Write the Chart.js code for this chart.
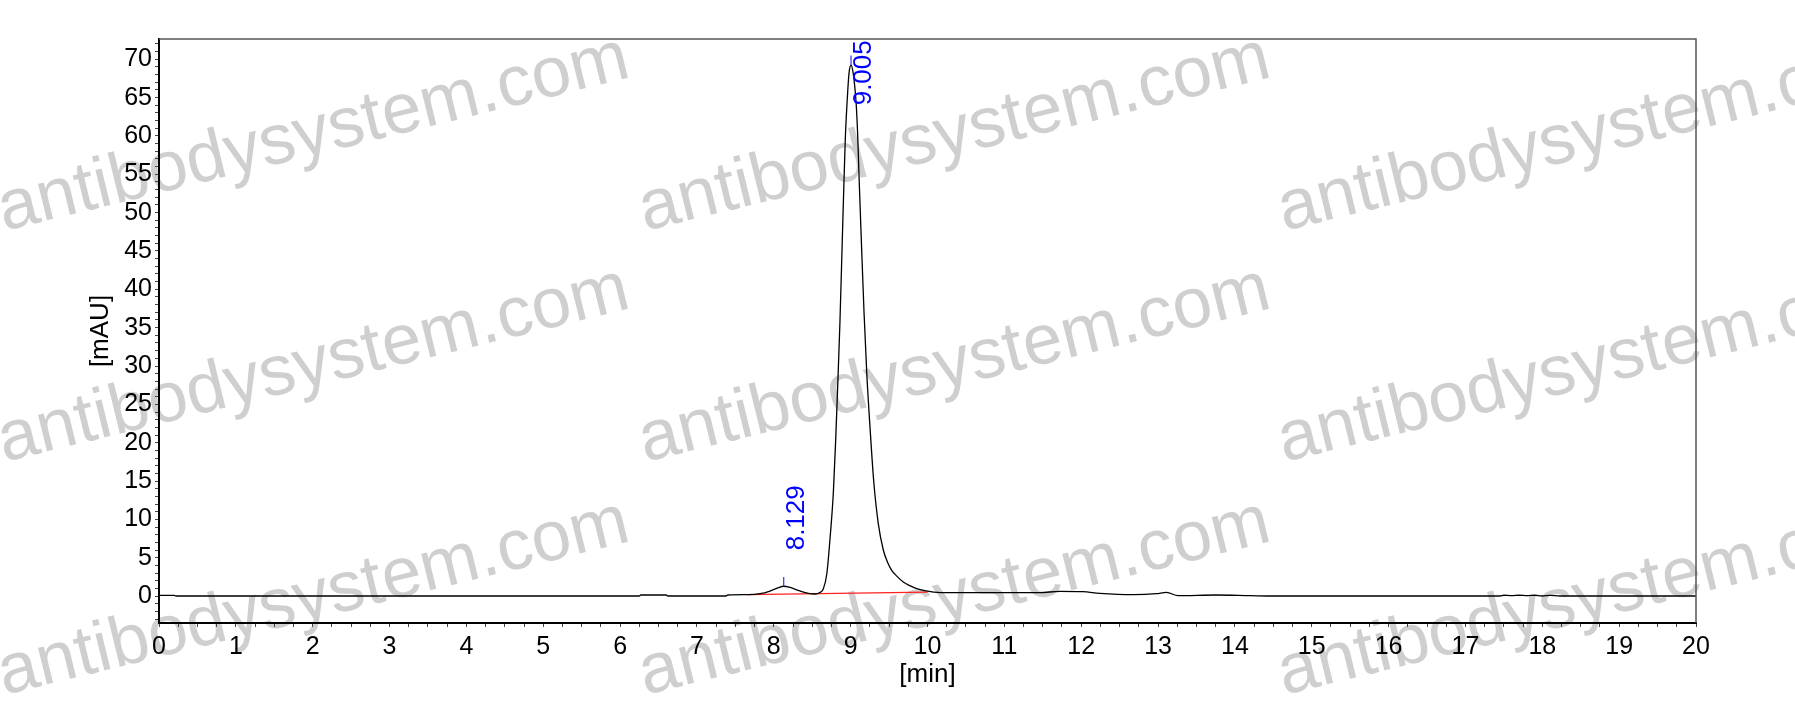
<!DOCTYPE html>
<html><head><meta charset="utf-8">
<script src="https://cdn.jsdelivr.net/npm/chart.js@4"></script>
<style>html,body{margin:0;padding:0;background:#fff}#wrap{width:1795px;height:726px}</style>
</head><body><div id="wrap"><canvas id="c" width="1795" height="726"></canvas></div>
<script>
// ---- data ----
const timeMin = [0, 0.2, 0.22, 6.25, 6.27, 6.6, 6.62, 7.38, 7.4, 7.67, 7.82, 7.95, 8.06, 8.129, 8.2, 8.34, 8.45, 8.536, 8.6, 8.645, 8.69, 8.73, 8.775, 8.805, 8.83, 8.86, 8.89, 8.91, 8.93, 8.957, 8.98, 9.005, 9.03, 9.05, 9.07, 9.09, 9.11, 9.135, 9.174, 9.21, 9.252, 9.3, 9.36, 9.425, 9.48, 9.534, 9.61, 9.685, 9.77, 9.86, 9.96, 10.08, 10.29, 10.94, 11.46, 11.72, 12.02, 12.24, 12.68, 12.98, 13.11, 13.26, 13.76, 14.2, 14.5, 17.45, 17.5, 17.6, 17.7, 17.8, 17.9, 18.0, 18.1, 18.23, 20];
const signalMAU = [0.08, 0.08, 0, 0, 0.13, 0.13, 0, 0, 0.13, 0.18, 0.3, 0.65, 1.1, 1.27, 1.15, 0.66, 0.35, 0.26, 0.45, 0.96, 2.9, 7.3, 13.5, 20.3, 27, 35.5, 46, 53, 59.5, 65, 68.3, 69.25, 68.4, 66.8, 64.5, 60.5, 54.5, 47.5, 37, 29, 22, 15, 9.4, 6.0, 4.4, 3.35, 2.5, 1.83, 1.35, 0.96, 0.7, 0.52, 0.44, 0.44, 0.44, 0.61, 0.57, 0.35, 0.18, 0.31, 0.48, 0.05, 0.13, 0.05, 0, 0, 0.1, 0.05, 0.1, 0.05, 0.1, 0, 0.08, 0, 0];
const baselineTime = [7.66, 10.0];
const baselineMAU = [0.17, 0.5];
const peakTimes = [8.129, 9.005];
const peakHeights = [1.27, 69.25];
const peakMarkTop = [2.48, 70.5];
const peakLabels = ['8.129', '9.005'];
const peakLabelStart = [5.96, 64.0];
const xRange = [0, 20];
const yRange = [-3.52, 72.65];
const xTitle = '[min]';
const yTitle = '[mAU]';
const watermarkText = 'antibodysystem.com';

const FONT = "'Liberation Sans', Arial, sans-serif";

const traceData = timeMin.map((t, i) => ({x: t, y: signalMAU[i]}));
const baseData = baselineTime.map((t, i) => ({x: t, y: baselineMAU[i]}));
const markSets = peakTimes.map((t, i) => ({
  data: [{x: t, y: peakHeights[i]}, {x: t, y: peakMarkTop[i]}],
  borderColor: '#3030ff', borderWidth: 1.2, pointRadius: 0, fill: false
}));

const watermarkPlugin = {
  id: 'wm',
  beforeDraw(chart) {
    const ctx = chart.ctx;
    ctx.save();
    ctx.fillStyle = '#ffffff';
    ctx.fillRect(0, 0, chart.width, chart.height);
    ctx.fillStyle = '#cfcfcf';
    ctx.font = '71px ' + FONT;
    ctx.textAlign = 'left';
    ctx.textBaseline = 'alphabetic';
    const cols = [4, 645, 1284], rows = [231, 462, 695];
    rows.forEach(ry => cols.forEach(cx => {
      ctx.save();
      ctx.translate(cx, ry);
      ctx.rotate(-13.8 * Math.PI / 180);
      ctx.fillText(watermarkText, 0, 0);
      ctx.restore();
    }));
    ctx.restore();
  }
};

const framePlugin = {
  id: 'frame',
  afterDatasetsDraw(chart) {
    const {ctx, chartArea: a, scales} = chart;
    ctx.save();
    ctx.strokeStyle = '#555';
    ctx.lineWidth = 1.5;
    ctx.beginPath();
    ctx.moveTo(a.left, a.top); ctx.lineTo(a.right, a.top); ctx.lineTo(a.right, a.bottom);
    ctx.stroke();
    // peak labels
    ctx.fillStyle = '#0000ff';
    ctx.font = '26px ' + FONT;
    ctx.textAlign = 'left';
    ctx.textBaseline = 'alphabetic';
    peakLabels.forEach((lab, i) => {
      const px = scales.x.getPixelForValue(peakTimes[i]);
      const py = scales.y.getPixelForValue(peakLabelStart[i]);
      ctx.save();
      ctx.translate(px + 20, py);
      ctx.rotate(-Math.PI / 2);
      ctx.fillText(lab, 0, 0);
      ctx.restore();
    });
    ctx.restore();
  }
};

new Chart(document.getElementById('c'), {
  type: 'line',
  data: {
    datasets: [
      {data: traceData, borderColor: '#000', borderWidth: 1.3, pointRadius: 0, fill: false, cubicInterpolationMode: 'monotone', order: 1},
      {data: baseData, borderColor: '#ff2020', borderWidth: 1.3, pointRadius: 0, fill: false, order: 2},
      ...markSets
    ]
  },
  options: {
    responsive: false,
    animation: false,
    events: [],
    layout: {padding: {top: 39, right: 99, bottom: 0, left: 0}},
    plugins: {legend: {display: false}, tooltip: {enabled: false}},
    scales: {
      x: {
        type: 'linear', position: 'bottom', min: xRange[0], max: xRange[1],
        afterFit(s) { s.height = 103; },
        border: {display: true, color: '#000', width: 2},
        grid: {drawOnChartArea: false, drawTicks: true, tickLength: 4, tickColor: '#444', tickWidth: 1},
        ticks: {
          stepSize: 0.25, autoSkip: false, includeBounds: false, maxRotation: 0, padding: 5,
          color: '#000', font: {family: FONT, size: 25},
          callback: v => Number.isInteger(v) ? String(v) : ''
        },
        title: {display: true, text: xTitle, color: '#000', font: {family: FONT, size: 26}, padding: {top: 0, bottom: 36}}
      },
      y: {
        type: 'linear', position: 'left', min: yRange[0], max: yRange[1],
        afterFit(s) { s.width = 159; },
        border: {display: true, color: '#000', width: 2},
        grid: {drawOnChartArea: false, drawTicks: true, tickLength: 4, tickColor: '#444', tickWidth: 1},
        ticks: {
          stepSize: 1, autoSkip: false, includeBounds: false, padding: 3,
          color: '#000', font: {family: FONT, size: 25},
          callback: v => (Math.round(v) % 5 === 0) ? String(Math.round(v)) : ''
        },
        title: {display: true, text: yTitle, color: '#000', font: {family: FONT, size: 26}, padding: {top: 85, bottom: 0}}
      }
    }
  },
  plugins: [watermarkPlugin, framePlugin]
});
</script></body></html>
